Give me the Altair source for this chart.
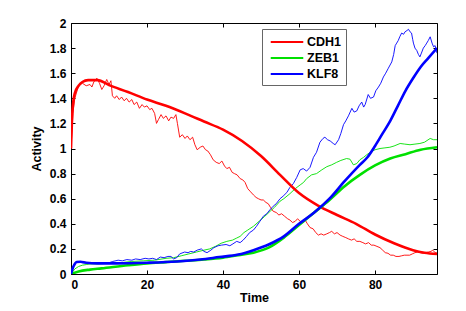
import altair as alt
import pandas as pd

genes = ["CDH1", "ZEB1", "KLF8"]
colors = ["#ff0000", "#00e000", "#0000ff"]

# Thick (deterministic) curves
cdh1_t = [0, 0.4, 1, 2, 3, 4.5, 7, 10, 15, 20, 25, 30, 35, 40, 45, 50, 55, 60, 65, 70, 75, 80, 85, 90, 93, 96.3]
cdh1_v = [1.0, 1.31, 1.44, 1.50, 1.53, 1.545, 1.545, 1.505, 1.45, 1.39, 1.34, 1.28, 1.215, 1.15, 1.06, 0.94, 0.79, 0.645, 0.545, 0.47, 0.40, 0.315, 0.245, 0.19, 0.17, 0.16]

zeb1_t = [0, 2, 5, 8, 15, 20, 25, 30, 35, 40, 44, 48, 52, 56, 60, 64, 68, 72, 76, 80, 84, 88, 92, 96.3]
zeb1_v = [0, 0.02, 0.035, 0.045, 0.07, 0.085, 0.095, 0.105, 0.115, 0.13, 0.15, 0.17, 0.21, 0.29, 0.39, 0.49, 0.59, 0.70, 0.79, 0.865, 0.92, 0.955, 0.99, 1.01]

klf8_t = [0, 0.5, 1, 1.5, 2.5, 4, 7, 12, 20, 28, 34, 39, 44, 48, 52, 56, 60, 64, 68, 72, 76, 78, 80, 82, 84, 86, 88, 90, 92, 94, 96.3]
klf8_v = [0, 0.05, 0.08, 0.095, 0.098, 0.09, 0.085, 0.085, 0.09, 0.10, 0.115, 0.135, 0.155, 0.19, 0.235, 0.30, 0.40, 0.49, 0.60, 0.74, 0.87, 0.93, 1.02, 1.12, 1.22, 1.34, 1.46, 1.56, 1.65, 1.72, 1.80]

# Thin (stochastic) traces
cdh1_s_t = [0, 0.5, 1, 2, 3, 4, 5, 5.5, 6, 6.8, 7.5, 8.1, 8.7, 9.4, 10, 10.5, 10.9, 11.5, 12, 12.7, 13.3, 14, 14.6, 15.3, 16, 16.6, 17.3, 18, 18.7, 19.3, 20, 20.7, 21.3, 22, 22.5, 23, 23.7, 24.3, 25, 25.7, 26.3, 27, 27.6, 28, 28.6, 29.3, 30, 30.6, 31.3, 32, 32.6, 33.2, 34, 34.7, 35.4, 36, 36.7, 37.4, 38.2, 39, 39.7, 40.4, 41, 41.7, 42.4, 43, 43.7, 44.5, 45.2, 45.8, 46.5, 47.1, 48, 48.7, 49.3, 50, 50.6, 51.3, 51.9, 52.5, 53.2, 54, 54.7, 55.4, 56.2, 57, 57.6, 58.3, 59, 59.6, 60.3, 61, 61.6, 62.2, 62.9, 63.7, 64.4, 65.1, 65.8, 66.5, 67.3, 68, 68.6, 69.3, 70, 70.8, 71.5, 72.3, 73, 73.8, 74.5, 75.2, 76, 76.8, 77.5, 78.3, 79, 79.7, 80.5, 81.3, 82, 82.7, 83.4, 84.1, 84.8, 85.5, 86.3, 87, 87.7, 88.4, 89.1, 89.8, 90.5, 91.2, 91.9, 92.6, 93.3, 94, 94.7, 95.2, 95.8, 96.3]
cdh1_s_v = [1.0, 1.28, 1.40, 1.50, 1.52, 1.50, 1.51, 1.49, 1.53, 1.56, 1.52, 1.47, 1.50, 1.55, 1.51, 1.54, 1.42, 1.40, 1.42, 1.39, 1.41, 1.38, 1.40, 1.37, 1.39, 1.35, 1.37, 1.32, 1.35, 1.33, 1.34, 1.31, 1.32, 1.28, 1.20, 1.23, 1.27, 1.24, 1.26, 1.22, 1.25, 1.24, 1.27, 1.20, 1.09, 1.11, 1.08, 1.10, 1.07, 1.09, 1.03, 0.99, 1.01, 1.02, 0.99, 0.98, 0.95, 0.91, 0.89, 0.88, 0.90, 0.86, 0.84, 0.85, 0.81, 0.80, 0.79, 0.76, 0.75, 0.73, 0.68, 0.66, 0.63, 0.61, 0.60, 0.59, 0.59, 0.57, 0.56, 0.53, 0.50, 0.49, 0.47, 0.48, 0.46, 0.44, 0.43, 0.41, 0.42, 0.44, 0.42, 0.41, 0.43, 0.40, 0.37, 0.36, 0.33, 0.31, 0.32, 0.31, 0.32, 0.33, 0.34, 0.32, 0.33, 0.31, 0.30, 0.29, 0.28, 0.27, 0.28, 0.26, 0.26, 0.25, 0.24, 0.25, 0.23, 0.23, 0.22, 0.21, 0.19, 0.17, 0.165, 0.15, 0.15, 0.14, 0.14, 0.145, 0.15, 0.15, 0.15, 0.16, 0.17, 0.175, 0.17, 0.165, 0.17, 0.175, 0.18, 0.19, 0.17, 0.165]

zeb1_s_t = [0, 0.5, 1, 2, 3, 4, 5, 7, 10, 13, 16, 19, 22, 25, 27, 29, 31, 33, 35, 36.5, 38, 39.5, 41, 42.5, 43.5, 44.5, 45.5, 46.5, 48, 49.5, 51, 52.4, 53.5, 55, 56, 57.6, 59, 60.3, 61.2, 62, 63.3, 64.6, 66, 67.3, 68.6, 69.9, 71, 72.5, 73.4, 74.3, 75.2, 76, 77, 77.8, 79, 80, 81.3, 82.6, 83.9, 85, 86.6, 87.8, 89.2, 90.5, 91.8, 93, 94.5, 95.4, 96.3]
zeb1_s_v = [0, 0.02, 0.04, 0.06, 0.07, 0.075, 0.08, 0.08, 0.085, 0.09, 0.10, 0.105, 0.11, 0.125, 0.13, 0.145, 0.16, 0.175, 0.19, 0.20, 0.22, 0.245, 0.26, 0.27, 0.285, 0.30, 0.33, 0.35, 0.38, 0.42, 0.46, 0.50, 0.53, 0.58, 0.60, 0.64, 0.68, 0.71, 0.73, 0.76, 0.79, 0.80, 0.83, 0.855, 0.87, 0.89, 0.905, 0.92, 0.915, 0.87, 0.88, 0.91, 0.93, 0.95, 0.975, 0.99, 1.00, 1.005, 1.01, 1.02, 1.04, 1.035, 1.03, 1.035, 1.04, 1.05, 1.08, 1.07, 1.07]

klf8_s_t = [0, 0.5, 1, 1.8, 3, 5, 7, 8, 9.5, 11, 12.4, 13.5, 14.7, 16, 17, 18.2, 19.5, 20.5, 21.5, 22.5, 23.5, 24.5, 25.5, 26.3, 27, 27.8, 28.6, 29.9, 30.8, 31.5, 32.3, 33.2, 34.3, 35, 35.8, 36.8, 37.6, 38.7, 39.6, 40.8, 41.8, 42.6, 43.6, 44.5, 45.3, 46.2, 47, 48, 48.8, 49.7, 50.6, 51.5, 52.3, 53.2, 54, 55, 55.8, 56.8, 57.6, 58.5, 59.4, 60.3, 61.1, 62, 62.9, 63.8, 64.6, 65.5, 66.3, 66.8, 67.5, 68.2, 69, 69.5, 70.4, 71, 71.7, 72.3, 73, 73.9, 74.5, 75.2, 75.8, 76.5, 77, 77.4, 78.2, 78.8, 79.6, 80.2, 80.9, 81.5, 82.2, 82.8, 83.5, 84.4, 84.9, 85.3, 85.7, 86.1, 86.5, 87, 87.5, 87.9, 88.4, 88.8, 89.2, 89.6, 89.9, 90.1, 90.5, 91, 91.4, 91.8, 92.2, 92.7, 93.2, 93.6, 94, 94.5, 95, 95.4, 95.8, 96.3]
klf8_s_v = [0, 0.06, 0.09, 0.10, 0.09, 0.085, 0.088, 0.09, 0.085, 0.10, 0.11, 0.105, 0.115, 0.11, 0.12, 0.115, 0.125, 0.12, 0.125, 0.115, 0.135, 0.13, 0.14, 0.14, 0.12, 0.13, 0.16, 0.175, 0.17, 0.18, 0.175, 0.19, 0.20, 0.18, 0.17, 0.19, 0.21, 0.225, 0.23, 0.235, 0.225, 0.24, 0.26, 0.25, 0.27, 0.30, 0.33, 0.35, 0.38, 0.42, 0.46, 0.48, 0.51, 0.54, 0.56, 0.60, 0.62, 0.65, 0.69, 0.72, 0.77, 0.83, 0.84, 0.82, 0.85, 0.93, 0.97, 1.05, 1.08, 1.09, 1.07, 1.06, 1.04, 1.03, 1.07, 1.12, 1.19, 1.22, 1.26, 1.32, 1.29, 1.30, 1.34, 1.37, 1.33, 1.35, 1.43, 1.40, 1.41, 1.46, 1.49, 1.52, 1.57, 1.60, 1.64, 1.69, 1.75, 1.82, 1.84, 1.86, 1.89, 1.92, 1.91, 1.93, 1.94, 1.95, 1.93, 1.92, 1.87, 1.84, 1.80, 1.78, 1.75, 1.73, 1.76, 1.80, 1.82, 1.84, 1.86, 1.89, 1.84, 1.81, 1.82, 1.76]

x_ticks = [0, 20, 40, 60, 80]
y_ticks = [0, 0.2, 0.4, 0.6, 0.8, 1.0, 1.2, 1.4, 1.6, 1.8, 2.0]


def frame(gene, ts, vs, kind):
    return pd.DataFrame({"Time": ts, "Activity": vs, "gene": gene, "kind": kind})


thick = pd.concat([
    frame("CDH1", cdh1_t, cdh1_v, "ode"),
    frame("ZEB1", zeb1_t, zeb1_v, "ode"),
    frame("KLF8", klf8_t, klf8_v, "ode"),
])
thin = pd.concat([
    frame("CDH1", cdh1_s_t, cdh1_s_v, "ssa"),
    frame("ZEB1", zeb1_s_t, zeb1_s_v, "ssa"),
    frame("KLF8", klf8_s_t, klf8_s_v, "ssa"),
])

PW, PH = 366, 251
FONT = "Liberation Sans"

xenc = alt.X("Time:Q", title="Time",
             scale=alt.Scale(domain=[0, 96.3], nice=False, zero=False),
             axis=alt.Axis(values=x_ticks, format="d", ticks=False, domain=False,
                           grid=True, gridColor="black", gridOpacity=1, gridWidth=1,
                           gridDash=[4, PH - 8, 4, 1000],
                           labelPadding=5, titlePadding=1))
yenc = alt.Y("Activity:Q", title="Activity",
             scale=alt.Scale(domain=[0, 2], nice=False),
             axis=alt.Axis(values=y_ticks, format="~g", ticks=False, domain=False,
                           grid=True, gridColor="black", gridOpacity=1, gridWidth=1,
                           gridDash=[4, PW - 8, 4, 1000],
                           labelPadding=5, titlePadding=6))
cenc = alt.Color("gene:N", scale=alt.Scale(domain=genes, range=colors),
                 legend=alt.Legend(title=None, orient="none", legendX=191, legendY=6,
                                   symbolType="M-2.1,0H2.1", symbolStrokeWidth=2.2,
                                   symbolSize=240, symbolOffset=12,
                                   fillColor="white",
                                   strokeColor="#666666", padding=4,
                                   labelFont=FONT, labelFontWeight="bold",
                                   labelFontSize=12.5, labelColor="black",
                                   rowPadding=0, labelOffset=11))

base_thin = alt.Chart(thin).mark_line(strokeWidth=0.9, clip=True).encode(
    x=xenc, y=yenc, color=cenc, detail="gene:N", order="Time:Q")

layers = [base_thin]
for g in genes:
    layers.append(
        alt.Chart(thick).transform_filter(alt.datum.gene == g)
        .mark_line(strokeWidth=2.6, clip=True, interpolate="monotone")
        .encode(x=xenc, y=yenc, color=cenc, order="Time:Q")
    )

chart = alt.layer(*layers).properties(
    width=PW, height=PH,
    autosize=alt.AutoSizeParams(type="none"),
    padding={"left": 63, "top": 15, "right": 20, "bottom": 36},
).configure_view(stroke="black", strokeWidth=1).configure_axis(
    labelFont=FONT, labelFontWeight="bold", labelFontSize=12, labelColor="black",
    titleFont=FONT, titleFontWeight="bold", titleFontSize=12.5, titleColor="black",
)

chart.save("out.html", embed_options={"renderer": "svg", "actions": False})
